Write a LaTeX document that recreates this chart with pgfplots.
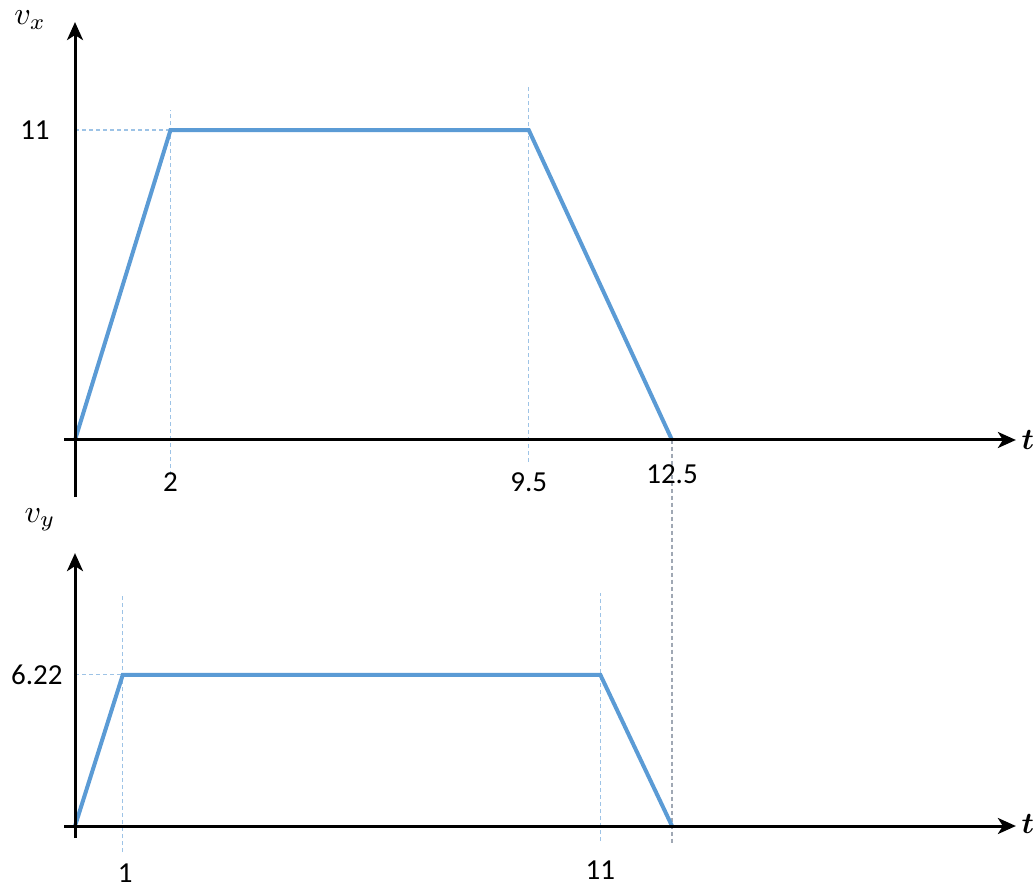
\documentclass[border=0pt]{standalone}
\usepackage{graphicx}
\usepackage{pgfplots}
\pgfplotsset{compat=1.18}
\usepackage{fontspec}
\setmainfont{Carlito}
\usetikzlibrary{arrows.meta}
\definecolor{lineblue}{HTML}{5B9BD5}
\definecolor{dashblue}{HTML}{9DC3E6}
\definecolor{dashgray}{HTML}{A0A8B4}
\tikzset{lbl/.style={font=\fontsize{14.5}{17}\selectfont, inner sep=1pt},
  axarrow/.style={line width=1.5pt, -{Stealth[length=9pt,width=8pt,inset=2.5pt]}},
  dsh/.style={dash pattern=on 2pt off 1.5pt, line width=0.6pt}}
\pgfplotsset{
 myax/.style={hide axis, x=23.88pt, xmin=-0.23, xmax=19.7,
   clip=false, anchor=south west},
}
\begin{document}
\begin{tikzpicture}
\begin{axis}[myax, at={(-5.49pt,-28.60pt)}, y=14.09pt, ymin=-2.03, ymax=14.83]
\addplot[dashblue, dsh] coordinates {(2,-1.24) (2,11.7)};
\addplot[dashblue, dsh] coordinates {(9.5,-0.78) (9.5,12.6)};
\addplot[dashblue, dsh] coordinates {(0,11) (2,11)};
\addplot[lineblue, line width=2pt] coordinates {(0,0) (2,11) (9.5,11) (12.5,0)};
\coordinate (A1) at (axis cs:-0.23,0);
\coordinate (A2) at (axis cs:19.7,0);
\coordinate (A3) at (axis cs:0,-2.03);
\coordinate (A4) at (axis cs:0,14.83);
\coordinate (L11) at (axis cs:-0.48,11);
\coordinate (L2) at (axis cs:2,-1.49);
\coordinate (L95) at (axis cs:9.5,-1.49);
\coordinate (L125) at (axis cs:12.5,-1.21);
\coordinate (LVX) at (axis cs:-0.94,14.9);
\coordinate (LT1) at (axis cs:19.95,0);
\end{axis}
\begin{axis}[myax, at={(-5.49pt,-199.08pt)}, y=12.15pt, ymin=-0.5, ymax=11.23]
\addplot[dashgray, dsh] coordinates {(12.5,15.9) (12.5,-0.78)};
\addplot[dashblue, dsh] coordinates {(1,-1.07) (1,9.5)};
\addplot[dashblue, dsh] coordinates {(11,-0.6) (11,9.6)};
\addplot[dashblue, dsh] coordinates {(0,6.22) (1,6.22)};
\addplot[lineblue, line width=2pt] coordinates {(0,0) (1,6.22) (11,6.22) (12.5,0)};
\coordinate (B1) at (axis cs:-0.23,0);
\coordinate (B2) at (axis cs:19.7,0);
\coordinate (B3) at (axis cs:0,-0.5);
\coordinate (B4) at (axis cs:0,11.23);
\coordinate (L622) at (axis cs:-0.21,6.22);
\coordinate (M1) at (axis cs:1.05,-1.93);
\coordinate (M11) at (axis cs:11,-1.81);
\coordinate (LVY) at (axis cs:-0.73,12.6);
\coordinate (LT2) at (axis cs:19.95,0.1);
\end{axis}
\draw[axarrow] (A1) -- (A2);
\draw[axarrow] (A3) -- (A4);
\draw[axarrow] (B1) -- (B2);
\draw[axarrow] (B3) -- (B4);
\node[lbl, anchor=east] at (L11) {11};
\node[lbl] at (L2) {2};
\node[lbl] at (L95) {9.5};
\node[lbl] at (L125) {12.5};
\node[inner sep=0pt] at (LVX) {\scalebox{1.6}{$v_x$}};
\node[inner sep=0pt] at (LT1) {\scalebox{1.5}{\boldmath$t$}};
\node[lbl, anchor=east] at (L622) {6.22};
\node[lbl] at (M1) {1};
\node[lbl] at (M11) {11};
\node[inner sep=0pt] at (LVY) {\scalebox{1.6}{$v_y$}};
\node[inner sep=0pt] at (LT2) {\scalebox{1.5}{\boldmath$t$}};
\pgfresetboundingbox
\useasboundingbox (-37.5pt,-223.5pt) rectangle (479pt,220pt);
\end{tikzpicture}
\end{document}
